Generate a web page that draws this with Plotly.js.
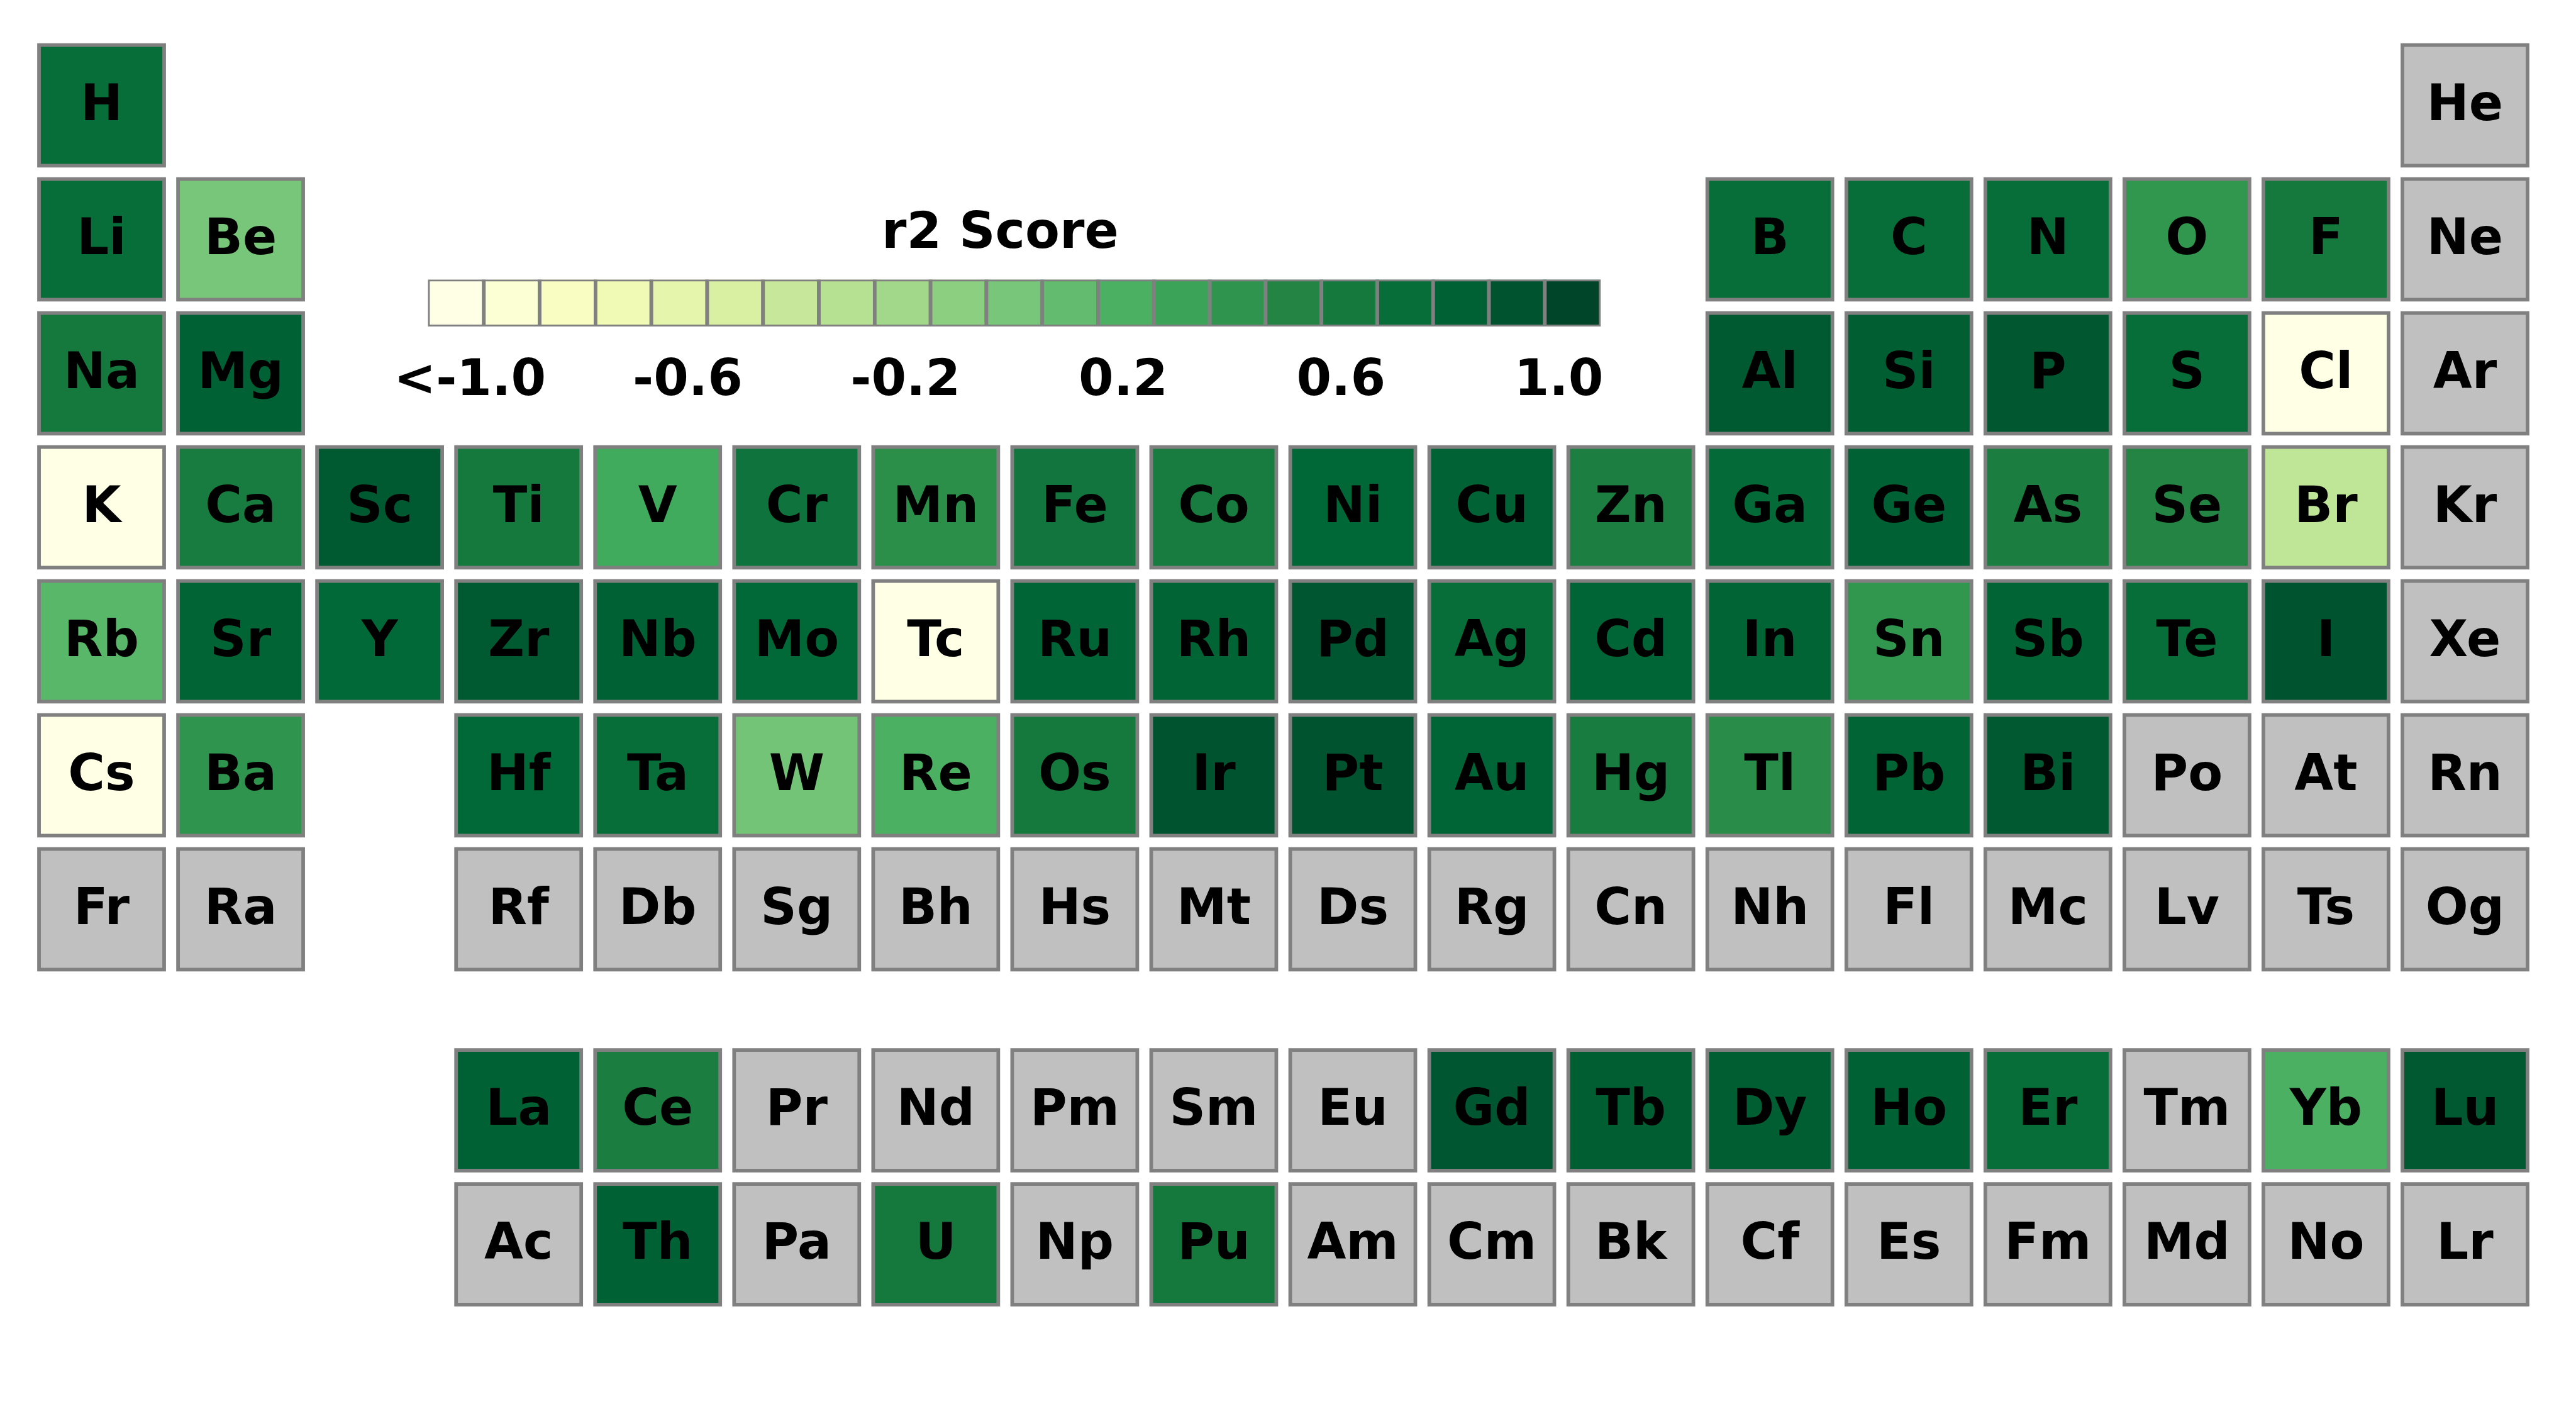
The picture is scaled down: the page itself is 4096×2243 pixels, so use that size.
<!DOCTYPE html>
<html>
<head>
<meta charset="utf-8">
<script src="https://cdn.plot.ly/plotly-3.0.1.min.js"></script>
<style>html,body{margin:0;padding:0;background:#fff;}#chart{width:4096px;height:2243px;}</style>
</head>
<body>
<div id="chart"></div>
<script>
// ---------------- data ----------------
const elementSymbols = ("H He Li Be B C N O F Ne Na Mg Al Si P S Cl Ar K Ca Sc Ti V Cr Mn Fe Co Ni Cu Zn " +
  "Ga Ge As Se Br Kr Rb Sr Y Zr Nb Mo Tc Ru Rh Pd Ag Cd In Sn Sb Te I Xe Cs Ba La Ce Pr Nd Pm Sm Eu Gd " +
  "Tb Dy Ho Er Tm Yb Lu Hf Ta W Re Os Ir Pt Au Hg Tl Pb Bi Po At Rn Fr Ra Ac Th Pa U Np Pu Am Cm Bk Cf " +
  "Es Fm Md No Lr Rf Db Sg Bh Hs Mt Ds Rg Cn Nh Fl Mc Lv Ts Og").split(" ");

const scoredElements = ["H","Li","Be","B","C","N","O","F","Na","Mg","Al","Si","P","S","Cl",
  "K","Ca","Sc","Ti","V","Cr","Mn","Fe","Co","Ni","Cu","Zn","Ga","Ge","As","Se","Br",
  "Rb","Sr","Y","Zr","Nb","Mo","Tc","Ru","Rh","Pd","Ag","Cd","In","Sn","Sb","Te","I",
  "Cs","Ba","Hf","Ta","W","Re","Os","Ir","Pt","Au","Hg","Tl","Pb","Bi",
  "La","Ce","Gd","Tb","Dy","Ho","Er","Yb","Lu","Th","U","Pu"];
const r2Scores = [0.70,0.70,0.00,0.70,0.70,0.70,0.38,0.60,0.60,0.80,0.85,0.82,0.87,0.70,-1.20,
  -1.20,0.58,0.85,0.60,0.25,0.65,0.43,0.63,0.58,0.76,0.79,0.55,0.72,0.80,0.56,0.50,-0.35,
  0.14,0.78,0.74,0.85,0.80,0.74,-1.20,0.77,0.78,0.88,0.70,0.77,0.78,0.38,0.78,0.70,0.90,
  -1.20,0.40,0.74,0.70,0.02,0.20,0.60,0.90,0.90,0.77,0.58,0.45,0.78,0.86,
  0.80,0.56,0.88,0.82,0.82,0.80,0.70,0.20,0.86,0.80,0.60,0.60];

const colorbarLevels = [-1.0,-0.9,-0.8,-0.7,-0.6,-0.5,-0.4,-0.3,-0.2,-0.1,0.0,0.1,0.2,0.3,0.4,0.5,0.6,0.7,0.8,0.9,1.0];
const colorbarTickValues = [-1.0,-0.6,-0.2,0.2,0.6,1.0];
const colorbarTickLabels = ["<-1.0","-0.6","-0.2","0.2","0.6","1.0"];
const colorbarTitle = "r2 Score";

// ---------------- table layout (group / period from atomic number) ----------------
function tablePosition(z) {
  if (z === 1) return [1, 1];
  if (z === 2) return [18, 1];
  if (z <= 10) return [z <= 4 ? z - 2 : z + 8, 2];
  if (z <= 18) return [z <= 12 ? z - 10 : z, 3];
  if (z <= 36) return [z - 18, 4];
  if (z <= 54) return [z - 36, 5];
  if (z <= 56) return [z - 54, 6];
  if (z <= 71) return [z - 53, 8.5];
  if (z <= 86) return [z - 68, 6];
  if (z <= 88) return [z - 86, 7];
  if (z <= 103) return [z - 85, 9.5];
  return [z - 100, 7];
}

const scoreMap = {};
scoredElements.forEach((s, i) => { scoreMap[s] = r2Scores[i]; });

const sx = [], sy = [], sv = [], gx = [], gy = [], lx = [], ly = [], lt = [];
elementSymbols.forEach((sym, i) => {
  const [c, r] = tablePosition(i + 1);
  if (sym in scoreMap) { sx.push(c); sy.push(r); sv.push(scoreMap[sym]); }
  else { gx.push(c); gy.push(r); }
  lx.push(c); ly.push(r + 0.016); lt.push(sym);
});

const YlGn = [[0,'#ffffe5'],[0.125,'#f7fcb9'],[0.25,'#d9f0a3'],[0.375,'#addd8e'],[0.5,'#78c679'],
              [0.625,'#41ab5d'],[0.75,'#238443'],[0.875,'#006837'],[1,'#004529']];
const edge = {color:'#808080', width:5.8};
const boldFont = {family:'DejaVu Sans', size:80, color:'#000000', weight:'bold'};

const traces = [
  { type:'bar', x:gx, y:gx.map(()=>0.9), base:gy.map(r=>r-0.45), width:0.9,
    marker:{color:'#c0c0c0', line:edge}, hoverinfo:'skip', showlegend:false, xaxis:'x', yaxis:'y' },
  { type:'bar', x:sx, y:sx.map(()=>0.9), base:sy.map(r=>r-0.45), width:0.9,
    marker:{color:sv, colorscale:YlGn, cmin:-1, cmax:1, showscale:false, line:edge},
    hoverinfo:'skip', showlegend:false, xaxis:'x', yaxis:'y' },
  { type:'scatter', mode:'text', x:lx, y:ly, text:lt, textposition:'middle center',
    textfont:boldFont, hoverinfo:'skip', showlegend:false, xaxis:'x', yaxis:'y', cliponaxis:false },
  { type:'bar', x:colorbarLevels, y:colorbarLevels.map(()=>1), base:0, width:0.1,
    marker:{color:colorbarLevels, colorscale:YlGn, cmin:-1, cmax:1, showscale:false, line:edge},
    hoverinfo:'skip', showlegend:false, xaxis:'x2', yaxis:'y2' }
];

const layout = {
  width:4096, height:2243, autosize:false,
  margin:{l:50.65, r:65.55, t:60.65, b:52.35, pad:0},
  paper_bgcolor:'#ffffff', plot_bgcolor:'#ffffff',
  barmode:'overlay', showlegend:false,
  xaxis:{range:[0.5,18.5], visible:false, fixedrange:true, domain:[0,1]},
  yaxis:{range:[10.5,0.5], visible:false, fixedrange:true, domain:[0,1]},
  xaxis2:{domain:[0.15821,0.62683], range:[-1.05,1.05], anchor:'y2', showgrid:false, zeroline:false,
          showline:false, ticks:'', tickvals:colorbarTickValues.map(v=>v*0.975), ticktext:colorbarTickLabels,
          tickfont:boldFont, ticklabelstandoff:28, fixedrange:true},
  yaxis2:{domain:[0.785,0.81998], range:[0,1], anchor:'x2', visible:false, fixedrange:true},
  annotations:[{text:colorbarTitle, xref:'paper', yref:'paper', x:0.38679, y:0.85664,
                xanchor:'center', yanchor:'middle', showarrow:false, font:boldFont}]
};

Plotly.newPlot('chart', traces, layout, {displayModeBar:false, staticPlot:true});
</script>
</body>
</html>
